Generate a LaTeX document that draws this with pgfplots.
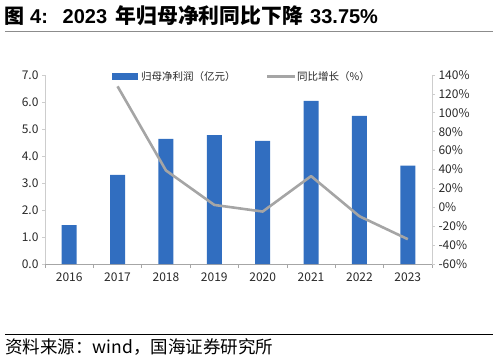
\documentclass[border=0pt]{standalone}
\usepackage{pgfplots}
\pgfplotsset{compat=1.18}
\usepackage{fontspec}
\setmainfont{Noto Sans CJK SC}
\newfontfamily\lat{Liberation Sans}
\definecolor{barblue}{RGB}{49,110,192}
\definecolor{linegray}{RGB}{165,165,165}
\definecolor{axisgray}{RGB}{205,205,205}
\definecolor{txt}{RGB}{40,40,40}
\pgfplotstableread{
x y
0 1.44
1 3.30
2 4.63
3 4.77
4 4.56
5 6.04
6 5.49
7 3.64
}\bardata
\pgfplotstableread{
x y
1 128
2 39
3 2.5
4 -4.5
5 33
6 -9.5
7 -33.75
}\linedata
\begin{document}
\begin{tikzpicture}[x=1pt,y=1pt]
\useasboundingbox (0,0) rectangle (498,362);
% title
\begin{scope}[every node/.style={anchor=base west, inner sep=0}]
\node[font=\fontsize{20}{22}\selectfont\bfseries] at (4.5,338.7) {图};
\node[font=\fontsize{20}{22}\selectfont\lat\bfseries] at (30,338.7) {4:};
\node[font=\fontsize{20}{22}\selectfont\lat\bfseries] at (62.5,338.7) {2023};
\node[font=\fontsize{20.8}{22}\selectfont\bfseries] at (115.5,338.7) {年归母净利同比下降};
\node[font=\fontsize{20}{22}\selectfont\lat\bfseries] at (310,338.7) {33.75\%};
\end{scope}
\draw[color=gray!90, line width=1.3pt] (5,330.3) -- (493,330.3);
% footer
\draw[color=black, line width=0.9pt] (5,27.7) -- (493,27.7);
\node[anchor=base west, inner sep=0, font=\fontsize{17.5}{19}\selectfont] at (5,9) {资料来源：wind，国海证券研究所};
\begin{axis}[
  at={(45pt,98pt)}, anchor=south west,
  width=387pt, height=189pt, scale only axis,
  xmin=-0.5, xmax=7.5, ymin=0, ymax=7,
  axis x line*=bottom, axis y line*=left,
  x axis line style={-, color=gray!70, line width=0.7pt},
  y axis line style={-, color=axisgray, line width=0.7pt},
  xtick={0,...,7},
  xticklabels={2016,2017,2018,2019,2020,2021,2022,2023},
  major x tick style={draw=none},
  minor xtick={-0.5,0.5,...,7.5},
  minor x tick style={color=gray!70, line width=0.6pt},
  minor tick length=4pt,
  ytick={0,1,...,7},
  y tick style={color=axisgray, line width=0.6pt},
  major tick length=3pt,
  tick align=outside,
  yticklabel style={/pgf/number format/fixed, /pgf/number format/precision=1, /pgf/number format/fixed zerofill, font=\fontsize{12}{13}\selectfont, text=txt},
  xticklabel style={font=\fontsize{12}{13}\selectfont, text=txt, yshift=-2pt},
  /pgf/number format/assume math mode=true,
  clip=false,
]
\addplot[ybar, bar width=15pt, fill=barblue, draw=none] table[x=x,y=y]{\bardata};
\end{axis}
\begin{axis}[
  at={(45pt,98pt)}, anchor=south west,
  width=387pt, height=189pt, scale only axis,
  xmin=-0.5, xmax=7.5, ymin=-60, ymax=140,
  axis x line=none, axis y line*=right,
  y axis line style={-, color=axisgray, line width=0.7pt},
  ytick={-60,-40,...,140},
  y tick style={color=axisgray, line width=0.6pt},
  major tick length=3pt,
  tick align=outside,
  yticklabel={\pgfmathprintnumber{\tick}\%},
  yticklabel style={font=\fontsize{12}{13}\selectfont, text=txt},
  /pgf/number format/assume math mode=true,
]
\addplot[color=linegray, line width=2.6pt, mark=none, line join=round] table[x=x,y=y]{\linedata};
\end{axis}
% legend
\fill[barblue] (112,282) rectangle (138,289);
\node[anchor=west, inner sep=0, font=\fontsize{10.5}{12}\selectfont, text=txt] at (141,285.5) {归母净利润（亿元）};
\draw[color=linegray, line width=2.6pt] (267,285.5) -- (295,285.5);
\node[anchor=west, inner sep=0, font=\fontsize{10.5}{12}\selectfont, text=txt] at (297,285.5) {同比增长（\%）};
\end{tikzpicture}
\end{document}
